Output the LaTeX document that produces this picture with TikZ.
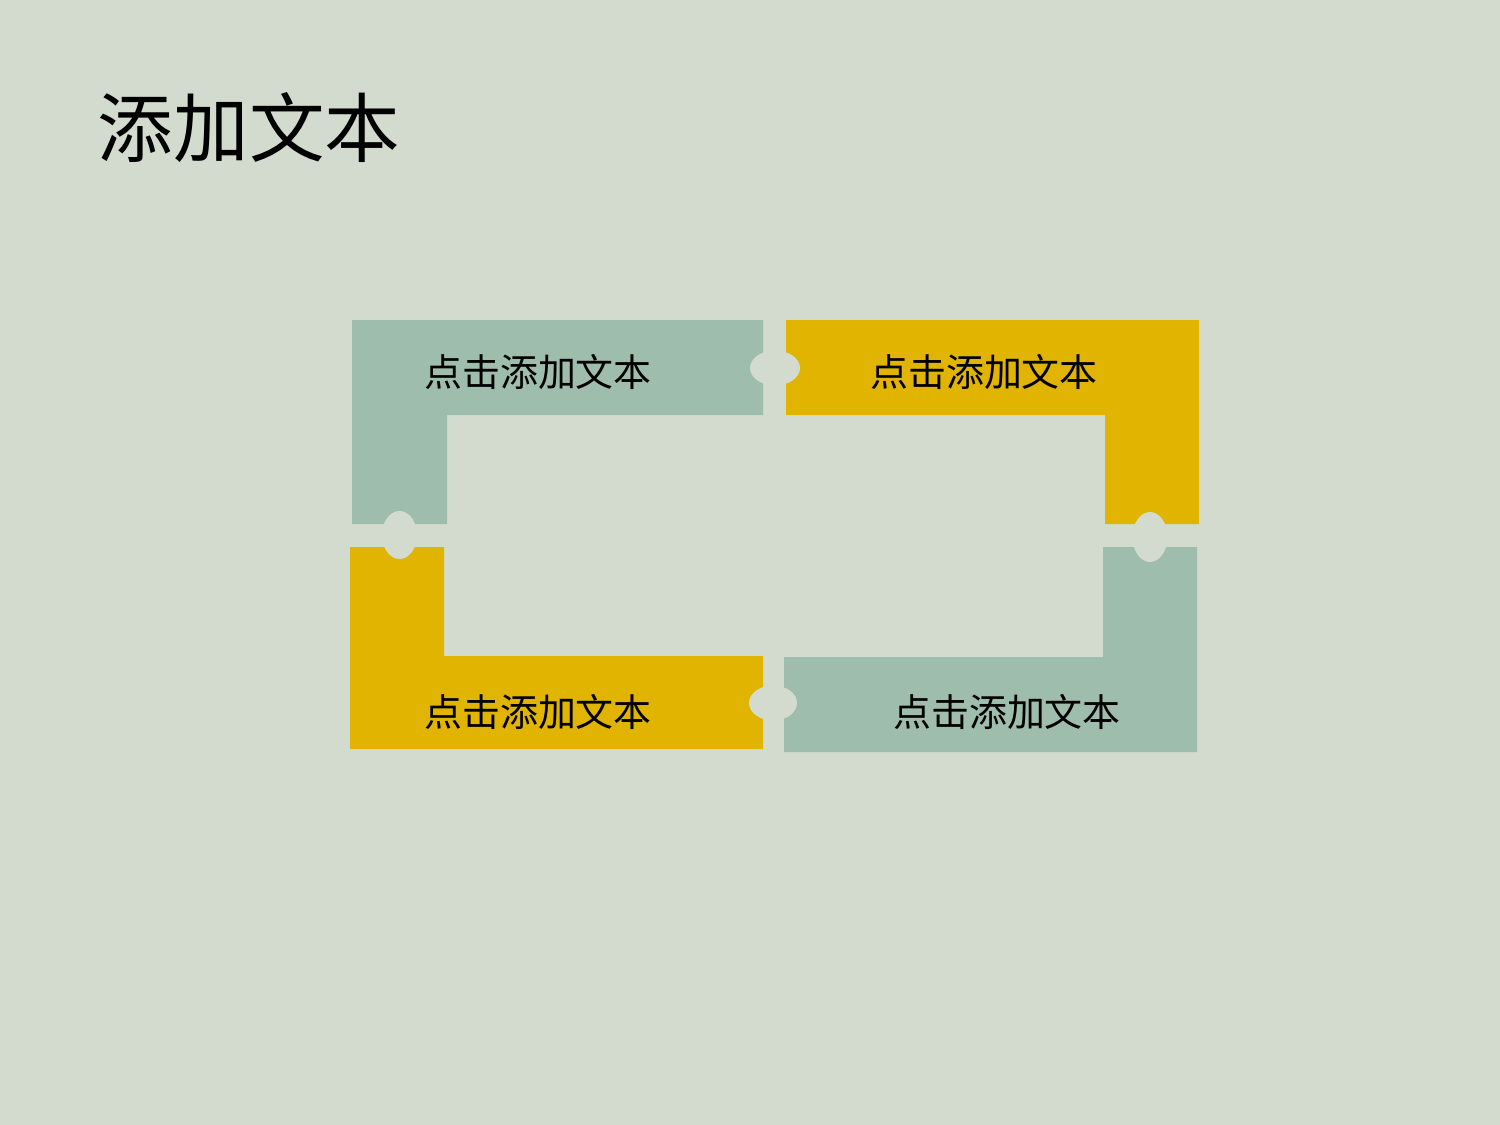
\documentclass[tikz,border=0pt]{standalone}
\usepackage{fontspec}
\setmainfont{Noto Sans CJK SC}
\usetikzlibrary{positioning, calc, shapes.geometric}
\definecolor{slidebg}{HTML}{D3DBCF}
\definecolor{sage}{HTML}{9FBDAC}
\definecolor{mustard}{HTML}{E0B400}

\begin{document}
\begin{tikzpicture}[
    x=0.02cm, y=-0.02cm,
    piece/.style = {draw=none},
    notch/.style = {fill=slidebg, draw=none},
    label/.style = {font=\fontsize{21.6pt}{24pt}\selectfont, text=black, inner sep=0pt},
    title/.style = {font=\fontsize{43pt}{48pt}\selectfont, text=black, inner sep=0pt},
]
\fill[slidebg] (0,0) rectangle (1500,1125);
\useasboundingbox (0,0) rectangle (1500,1125);

% puzzle pieces
\fill[piece, sage] (352,320) -- (763,320) -- (763,415) -- (447,415) -- (447,524) -- (352,524) -- cycle;
\fill[piece, mustard] (786,320) -- (1199,320) -- (1199,524) -- (1105,524) -- (1105,415) -- (786,415) -- cycle;
\fill[piece, mustard] (350,547) -- (444,547) -- (444,656) -- (763,656) -- (763,749) -- (350,749) -- cycle;
\fill[piece, sage] (1103,547) -- (1197,547) -- (1197,752) -- (784,752) -- (784,657) -- (1103,657) -- cycle;

% notches
\fill[notch] (775,368) ellipse [x radius=25, y radius=17.5];
\fill[notch] (399.5,535) ellipse [x radius=17.5, y radius=24];
\fill[notch] (1150,537) ellipse [x radius=17.5, y radius=25];
\fill[notch] (773,703) ellipse [x radius=24, y radius=17.5];

\node[title] (head) at (249,128) {添加文本};
\node[label] (t1) at (538,372) {点击添加文本};
\node[label] (t2) at (984,372) {点击添加文本};
\node[label] (t3) at (538,712) {点击添加文本};
\node[label] (t4) at (1007,712) {点击添加文本};

\end{tikzpicture}
\end{document}
